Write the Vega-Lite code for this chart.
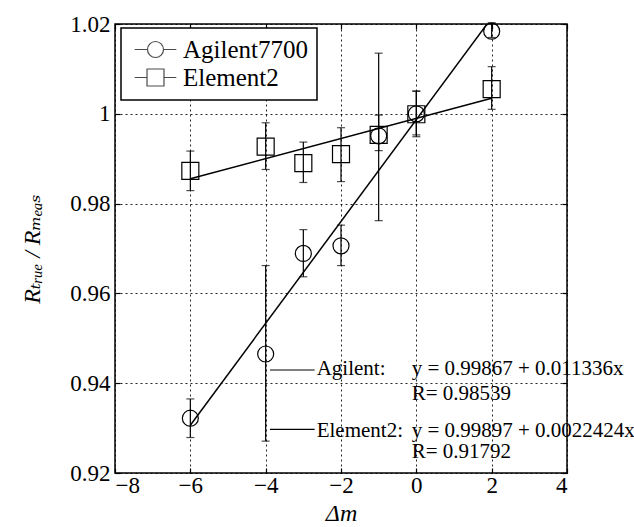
{
  "$schema": "https://vega.github.io/schema/vega-lite/v6.json",
  "width": 452,
  "height": 449,
  "autosize": {"type": "none"},
  "padding": {"left": 115, "top": 24, "right": 67, "bottom": 54},
  "background": "white",
  "config": {
    "view": {"stroke": "black", "strokeWidth": 1.5},
    "font": "Liberation Serif, DejaVu Serif, serif",
    "axis": {
      "domain": false,
      "grid": true,
      "gridColor": "black",
      "gridDash": [2, 3],
      "gridWidth": 1,
      "gridOpacity": 0.85,
      "tickColor": "black",
      "tickSize": -5,
      "tickWidth": 1.2,
      "labelFont": "Liberation Serif, DejaVu Serif, serif",
      "labelFontSize": 23,
      "labelColor": "black",
      "titleFont": "Liberation Serif, DejaVu Serif, serif",
      "titleFontSize": 24,
      "titleFontWeight": "normal",
      "titleColor": "black"
    },
    "legend": {
      "orient": "none",
      "legendX": 6,
      "legendY": 4,
      "fillColor": "white",
      "strokeColor": "black",
      "strokeWidth": 1.5,
      "padding": 9,
      "symbolOffset": 13,
      "symbolSize": 256,
      "symbolStrokeColor": "black",
      "symbolStrokeWidth": 1.2,
      "symbolFillColor": "transparent",
      "labelFont": "Liberation Serif, DejaVu Serif, serif",
      "labelFontSize": 25,
      "labelColor": "black",
      "labelOffset": 15,
      "labelLimit": 0,
      "rowPadding": 2
    }
  },
  "datasets": {
    "points": [
      {"series": "Agilent7700", "x": -6, "y": 0.9322, "lo": 0.9279, "hi": 0.9365},
      {"series": "Agilent7700", "x": -4, "y": 0.9465, "lo": 0.9271, "hi": 0.9662},
      {"series": "Agilent7700", "x": -3, "y": 0.9689, "lo": 0.9637, "hi": 0.9742},
      {"series": "Agilent7700", "x": -2, "y": 0.9706, "lo": 0.9662, "hi": 0.9752},
      {"series": "Agilent7700", "x": -1, "y": 0.9951, "lo": 0.9762, "hi": 1.0135},
      {"series": "Agilent7700", "x": 0, "y": 1.0000, "lo": 0.9949, "hi": 1.0051},
      {"series": "Agilent7700", "x": 2, "y": 1.0184, "lo": 1.0170, "hi": 1.0203},
      {"series": "Element2", "x": -6, "y": 0.9873, "lo": 0.9829, "hi": 0.9917},
      {"series": "Element2", "x": -4, "y": 0.9927, "lo": 0.9876, "hi": 0.9980},
      {"series": "Element2", "x": -3, "y": 0.9890, "lo": 0.9847, "hi": 0.9937},
      {"series": "Element2", "x": -2, "y": 0.9910, "lo": 0.9849, "hi": 0.9969},
      {"series": "Element2", "x": -1, "y": 0.9953, "lo": 0.9918, "hi": 0.9997},
      {"series": "Element2", "x": 0, "y": 0.9999, "lo": 0.9953, "hi": 1.0050},
      {"series": "Element2", "x": 2, "y": 1.0055, "lo": 1.0010, "hi": 1.0105}
    ],
    "fits": [
      {"series": "Agilent7700", "x": -6, "y": 0.93065},
      {"series": "Agilent7700", "x": 2, "y": 1.02139},
      {"series": "Element2", "x": -6, "y": 0.98552},
      {"series": "Element2", "x": 2, "y": 1.00345}
    ],
    "annlines": [
      {"x": -3.885, "x2": -2.7, "y": 0.94294},
      {"x": -3.885, "x2": -2.7, "y": 0.92973}
    ],
    "anntext": [
      {"x": -2.646, "y": 0.94183, "label": "Agilent:"},
      {"x": -0.124, "y": 0.94183, "label": "y = 0.99867 + 0.011336x"},
      {"x": -0.124, "y": 0.93626, "label": "R= 0.98539"},
      {"x": -2.646, "y": 0.92808, "label": "Element2:"},
      {"x": -0.124, "y": 0.92808, "label": "y = 0.99897 + 0.0022424x"},
      {"x": -0.124, "y": 0.92334, "label": "R= 0.91792"}
    ]
  },
  "layer": [
    {
      "data": {"name": "points"},
      "mark": {"type": "rule", "color": "black", "strokeWidth": 1.2},
      "encoding": {
        "x": {
          "field": "x", "type": "quantitative",
          "scale": {"domain": [-8, 4], "nice": false, "zero": false},
          "axis": {"values": [-8, -6, -4, -2, 0, 2, 4], "title": "Δm", "titleFontStyle": "italic", "labelPadding": 6, "titlePadding": 4}
        },
        "y": {
          "field": "lo", "type": "quantitative",
          "scale": {"domain": [0.92, 1.02], "nice": false, "zero": false},
          "axis": {"values": [0.92, 0.94, 0.96, 0.98, 1, 1.02], "format": ".3~g", "title": "Rₜᵣᵤₑ / Rₘₑₐₛ", "titleFontStyle": "italic", "labelPadding": 10, "titlePadding": 25}
        },
        "y2": {"field": "hi"}
      }
    },
    {
      "data": {"name": "points"},
      "mark": {"type": "tick", "orient": "horizontal", "size": 8, "thickness": 1.2, "color": "black"},
      "encoding": {
        "x": {"field": "x", "type": "quantitative", "axis": null},
        "y": {"field": "lo", "type": "quantitative", "axis": null}
      }
    },
    {
      "data": {"name": "points"},
      "mark": {"type": "tick", "orient": "horizontal", "size": 8, "thickness": 1.2, "color": "black"},
      "encoding": {
        "x": {"field": "x", "type": "quantitative", "axis": null},
        "y": {"field": "hi", "type": "quantitative", "axis": null}
      }
    },
    {
      "data": {"name": "fits"},
      "mark": {"type": "line", "color": "black", "strokeWidth": 1.5, "clip": true},
      "encoding": {
        "x": {"field": "x", "type": "quantitative", "axis": {"orient": "top", "labels": false, "grid": false, "title": null, "values": [-8, -6, -4, -2, 0, 2, 4]}},
        "y": {"field": "y", "type": "quantitative", "axis": {"orient": "right", "labels": false, "grid": false, "title": null, "values": [0.92, 0.94, 0.96, 0.98, 1, 1.02]}},
        "detail": {"field": "series"}
      }
    },
    {
      "data": {"name": "points"},
      "transform": [{"filter": "datum.series === 'Agilent7700'"}],
      "mark": {"type": "point", "shape": "circle", "size": 256, "filled": false, "stroke": "black", "strokeWidth": 1.2, "opacity": 1},
      "encoding": {
        "x": {"field": "x", "type": "quantitative", "axis": null},
        "y": {"field": "y", "type": "quantitative", "axis": null}
      }
    },
    {
      "data": {"name": "points"},
      "transform": [{"filter": "datum.series === 'Element2'"}],
      "mark": {"type": "point", "shape": "square", "size": 289, "filled": false, "stroke": "black", "strokeWidth": 1.2, "opacity": 1},
      "encoding": {
        "x": {"field": "x", "type": "quantitative", "axis": null},
        "y": {"field": "y", "type": "quantitative", "axis": null}
      }
    },
    {
      "data": {"name": "annlines"},
      "mark": {"type": "rule", "color": "black", "strokeWidth": 1.2},
      "encoding": {
        "x": {"field": "x", "type": "quantitative", "axis": null},
        "x2": {"field": "x2"},
        "y": {"field": "y", "type": "quantitative", "axis": null}
      }
    },
    {
      "data": {"name": "anntext"},
      "mark": {"type": "text", "align": "left", "baseline": "alphabetic", "font": "Liberation Serif, DejaVu Serif, serif", "fontSize": 21, "color": "black"},
      "encoding": {
        "x": {"field": "x", "type": "quantitative", "axis": null},
        "y": {"field": "y", "type": "quantitative", "axis": null},
        "text": {"field": "label"}
      }
    },
    {
      "data": {"values": []},
      "mark": {"type": "point", "filled": false, "stroke": "black"},
      "encoding": {
        "x": {"field": "x", "type": "quantitative", "axis": null},
        "y": {"field": "y", "type": "quantitative", "axis": null},
        "shape": {
          "field": "series", "type": "nominal",
          "scale": {
            "domain": ["Agilent7700", "Element2"],
            "range": [
              "M-2.6,0L-1,0M1,0L2.6,0M1,0A1,1,0,1,1,-1,0A1,1,0,1,1,1,0",
              "M-2.6,0L-1.06,0M1.06,0L2.6,0M-1.06,-1.06L1.06,-1.06L1.06,1.06L-1.06,1.06Z"
            ]
          },
          "legend": {"title": null}
        }
      }
    }
  ],
  "resolve": {"axis": {"x": "independent", "y": "independent"}}
}
